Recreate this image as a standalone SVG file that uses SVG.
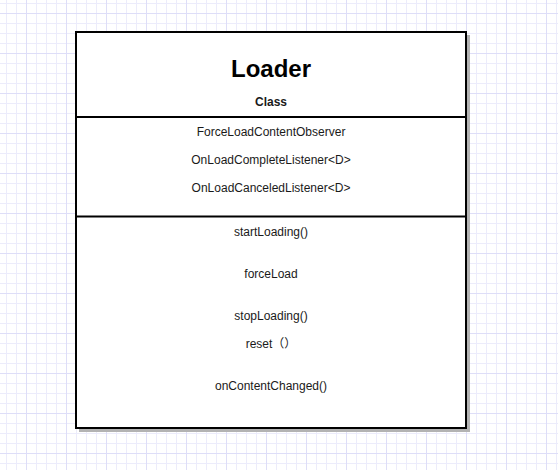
<svg xmlns="http://www.w3.org/2000/svg" width="558" height="470" viewBox="0 0 558 470">
  <style>
    .t { font-family: "Liberation Sans", Arial, "Noto Sans CJK SC", sans-serif; fill: #1a1a1a; text-anchor: middle; }
    .item { font-size: 12px; }
    .title { font-size: 24px; font-weight: bold; fill: #000; }
    .stereo { font-size: 12px; font-weight: bold; }
    .border { fill: #fff; stroke: #000; stroke-width: 2; }
    .shadow { fill: #b3b3b3; }
    .divider { stroke: #000; stroke-width: 2; }
  </style>
  <defs>
    <pattern id="minor" x="6" y="3" width="10" height="10" patternUnits="userSpaceOnUse">
      <path d="M0.5 0V10M0 0.5H10" stroke="#ececfb" stroke-width="1" fill="none"/>
    </pattern>
    <pattern id="major" x="26" y="13" width="40" height="40" patternUnits="userSpaceOnUse">
      <path d="M0.5 0V40M0 0.5H40" stroke="#dedef8" stroke-width="1" fill="none"/>
    </pattern>
  </defs>
  <rect width="558" height="470" fill="#fff"/>
  <rect width="558" height="470" fill="url(#minor)"/>
  <rect width="558" height="470" fill="url(#major)"/>

  <g id="Loader">
    <rect class="shadow" x="79" y="35" width="391" height="397"/>
    <rect class="border" x="76" y="32" width="390" height="396"/>
    <line class="divider" x1="76" y1="117" x2="466" y2="117"/>
    <line class="divider" x1="76" y1="216.5" x2="466" y2="216.5"/>
    <text class="t title" x="271" y="77">Loader</text>
    <text class="t stereo" x="271" y="106">Class</text>
    <text class="t item" x="271" y="136">ForceLoadContentObserver</text>
    <text class="t item" x="271" y="164">OnLoadCompleteListener&lt;D&gt;</text>
    <text class="t item" x="271" y="192">OnLoadCanceledListener&lt;D&gt;</text>
    <text class="t item" x="271" y="236">startLoading()</text>
    <text class="t item" x="271" y="278">forceLoad</text>
    <text class="t item" x="271" y="320">stopLoading()</text>
    <text class="t item" x="271" y="348">reset（）</text>
    <text class="t item" x="271" y="390">onContentChanged()</text>
  </g>
  <g id="connectors"/>
</svg>
